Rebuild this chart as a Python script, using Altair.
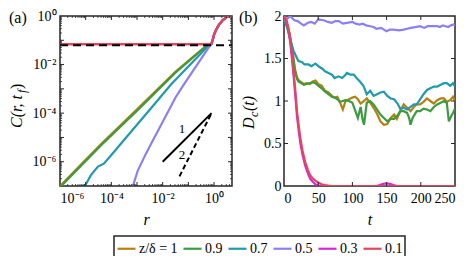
import altair as alt
import pandas as pd

FONT = "Liberation Serif, Times New Roman, serif"
INK = "#262626"

# ---------------- data ----------------
z_labels = ["1", "0.9", "0.7", "0.5", "0.3", "0.1"]
colors = ["#b5800f", "#3a9b3f", "#1f9aae", "#8a80f5", "#d42ad4", "#e2475a"]

# panel (a): C(r, t_f)
rise_r = [0.78, 0.9, 1.0, 1.2, 1.55, 2.2, 3.0, 3.8, 5.0]
rise_C = [0.07, 0.11, 0.17, 0.27, 0.43, 0.68, 0.88, 1.0, 1.0]

a_r = {
    "1":   [1e-6, 3.2e-6, 1e-5, 4e-5, 1e-3, 3.2e-2, 0.16, 0.6],
    "0.9": [1e-6, 3.2e-6, 1e-5, 4e-5, 1e-3, 3.2e-2, 0.16, 0.62],
    "0.7": [9.3e-6, 1.6e-5, 3.0e-5, 5.1e-5, 1e-4, 2.3e-4, 3.5e-3, 2.1e-2, 0.16, 0.71],
    "0.5": [6.9e-4, 1.07e-3, 2.2e-3, 3.5e-3, 3.2e-2, 6.6e-2, 0.76],
    "0.3": [1e-6, 0.5],
    "0.1": [1e-6, 0.5],
}
a_C = {
    "1":   [1e-7, 3.5e-7, 1.2e-6, 5.4e-6, 1.45e-4, 5.1e-3, 2.2e-2, 0.07],
    "0.9": [0.89e-7, 3.1e-7, 1.07e-6, 4.8e-6, 1.26e-4, 4.7e-3, 2.05e-2, 0.07],
    "0.7": [1e-7, 2.8e-7, 6.3e-7, 8.3e-7, 1.9e-6, 5.4e-6, 1.6e-4, 1.5e-3, 1.4e-2, 0.07],
    "0.5": [1e-7, 4.3e-7, 2.1e-6, 5.4e-6, 4.5e-4, 1.5e-3, 0.07],
    "0.3": [0.07, 0.07],
    "0.1": [0.07, 0.07],
}
flat_r = [1e-6, 5.0]
flat_C = [0.063, 0.063]
slope1_r = [0.01, 0.8]
slope1_C = [1e-6, 1e-4]
slope2_r = [0.045, 0.8]
slope2_C = [2.5e-7, 1e-4]
slope_lab_r = [0.056, 0.056]
slope_lab_C = [2.2e-5, 1.9e-6]
slope_lab_t = ["1", "2"]

# panel (b): D_c(t)
b_t = {
    "1":   [0, 4, 8, 12, 16, 19, 21, 25, 29, 33, 38, 42, 46, 50, 55, 60, 65, 70, 74, 78, 82, 86, 90, 95, 100,
            104, 108, 112, 117, 121, 126, 131, 136, 141, 146, 151, 156, 161, 165, 170, 175, 180, 185, 190,
            194, 199, 204, 209, 214, 219, 224, 229, 234, 238, 243, 247, 250],
    "0.9": [0, 4, 8, 12, 16, 19, 21, 25, 29, 33, 38, 42, 46, 50, 55, 60, 65, 70, 74, 78, 82, 86, 90, 95, 100,
            104, 108, 112, 115, 117, 119, 121, 126, 131, 136, 141, 146, 151, 156, 161, 165, 170, 175, 180,
            183, 185, 188, 194, 199, 204, 209, 214, 219, 224, 229, 234, 238, 241, 243, 247, 250],
    "0.7": [0, 4, 7, 10, 14, 18, 21, 26, 30, 36, 40, 46, 52, 56, 60, 65, 70, 74, 80, 85, 89, 92, 97, 102, 106,
            111, 116, 121, 126, 131, 136, 141, 146, 151, 156, 161, 166, 170, 175, 180, 185, 190, 194, 199,
            204, 209, 214, 219, 224, 229, 234, 238, 243, 247, 250],
    "0.5": [0, 5, 9, 15, 20, 25, 29, 35, 40, 45, 50, 58, 64, 70, 75, 80, 86, 92, 100, 105, 110, 115, 120, 126,
            131, 135, 142, 146, 150, 155, 160, 168, 175, 180, 185, 192, 199, 205, 210, 218, 224, 228, 232,
            236, 240, 244, 248, 250],
    "0.3": [0, 3, 6, 9, 12, 14, 17, 19, 22, 24, 27, 31, 35, 38, 42, 46, 50, 55, 60, 100, 135, 140, 145, 150,
            155, 160, 165, 200, 250],
    "0.1": [0, 3, 6, 9, 12, 14, 17, 19, 22, 24, 27, 31, 35, 38, 42, 45, 50, 55, 60, 65, 70, 80, 100, 150,
            200, 250],
}
b_D = {
    "1":   [1.95, 1.90, 1.80, 1.62, 1.38, 1.28, 1.25, 1.22, 1.20, 1.21, 1.20, 1.23, 1.24, 1.20, 1.18, 1.12,
            1.10, 1.06, 1.04, 1.05, 0.98, 0.90, 1.00, 1.02, 1.04, 1.05, 1.02, 0.97, 1.00, 1.03, 0.98, 0.92,
            0.85, 0.76, 0.72, 0.73, 0.80, 0.84, 0.79, 0.88, 0.96, 0.92, 0.88, 0.93, 0.96, 0.96, 0.99, 1.03,
            1.00, 0.97, 1.01, 1.03, 1.03, 0.99, 1.01, 1.05, 1.00],
    "0.9": [1.95, 1.88, 1.76, 1.58, 1.35, 1.26, 1.23, 1.21, 1.19, 1.20, 1.21, 1.22, 1.21, 1.18, 1.15, 1.11,
            1.08, 1.05, 1.04, 1.02, 0.99, 1.00, 1.01, 1.00, 0.98, 0.89, 0.80, 0.93, 0.78, 0.72, 0.85, 0.98,
            1.00, 0.96, 0.90, 0.84, 0.80, 0.76, 0.79, 0.79, 0.82, 0.88, 0.88, 0.86, 0.80, 0.72, 0.80, 0.88,
            0.88, 0.91, 0.90, 0.88, 0.93, 0.96, 0.98, 1.00, 0.98, 0.76, 0.80, 0.86, 0.91],
    "0.7": [1.96, 1.90, 1.82, 1.70, 1.59, 1.52, 1.47, 1.46, 1.43, 1.43, 1.41, 1.44, 1.40, 1.38, 1.35, 1.33,
            1.31, 1.27, 1.29, 1.27, 1.30, 1.33, 1.31, 1.31, 1.27, 1.23, 1.18, 1.08, 1.12, 1.06, 1.08, 1.10,
            1.11, 1.06, 1.03, 1.02, 0.97, 0.91, 0.92, 0.90, 0.93, 0.96, 0.96, 1.02, 1.08, 1.13, 1.15, 1.17,
            1.17, 1.19, 1.21, 1.21, 1.18, 1.21, 1.17],
    "0.5": [1.95, 1.97, 2.00, 1.95, 1.94, 1.91, 1.89, 1.92, 1.93, 1.91, 1.96, 1.95, 1.93, 1.92, 1.94, 1.94,
            1.91, 1.92, 1.93, 1.91, 1.90, 1.91, 1.89, 1.88, 1.87, 1.85, 1.86, 1.84, 1.82, 1.84, 1.84, 1.83,
            1.84, 1.85, 1.86, 1.87, 1.88, 1.86, 1.88, 1.88, 1.88, 1.87, 1.89, 1.88, 1.87, 1.89, 1.90, 1.89],
    "0.3": [1.99, 1.95, 1.85, 1.70, 1.47, 1.30, 1.02, 0.82, 0.62, 0.50, 0.37, 0.24, 0.15, 0.09, 0.05, 0.02,
            0.005, 0, 0, 0, 0, 0.01, 0.025, 0.03, 0.025, 0.01, 0, 0, 0],
    "0.1": [2.0, 1.97, 1.88, 1.74, 1.52, 1.35, 1.08, 0.88, 0.68, 0.56, 0.42, 0.28, 0.19, 0.13, 0.09, 0.07,
            0.04, 0.02, 0.01, 0.004, 0, 0, 0, 0, 0, 0],
}

a_xticks = [1e-6, 1e-4, 1e-2, 1.0]
a_yticks = [1e-6, 1e-4, 1e-2, 1.0]
b_xticks = [0, 50, 100, 150, 200, 250]
b_yticks = [0, 0.5, 1, 1.5, 2]

# ---------------- tables ----------------
rows_a = []
for z in z_labels:
    for r, c in zip(a_r[z] + rise_r, a_C[z] + rise_C):
        rows_a.append({"z": z, "r": r, "C": c})
df_a = pd.DataFrame(rows_a)
rows_b = []
for z in z_labels:
    for t, d in zip(b_t[z], b_D[z]):
        rows_b.append({"z": z, "t": t, "D": d})
df_b = pd.DataFrame(rows_b)

W_A, W_B, H = 172, 171, 170
TK, TKm = 4, 2

xa = alt.Scale(type="log", domain=[1e-6, 5], nice=False)
ya = alt.Scale(type="log", domain=[1e-7, 1], nice=False)
xb = alt.Scale(domain=[0, 250], nice=False)
yb = alt.Scale(domain=[0, 2], nice=False)

legend = alt.Legend(
    title=None, orient="none", legendX=54, legendY=220, direction="horizontal",
    symbolType="stroke", symbolSize=324, symbolStrokeWidth=2.2, labelFont=FONT,
    labelFontSize=14, labelColor="black", columnPadding=1, labelOffset=2,
    strokeColor=INK, padding=2, symbolOpacity=1,
    labelExpr="datum.label == '1' ? 'z/δ = 1' : datum.label",
)
color = alt.Color("z:N", scale=alt.Scale(domain=z_labels, range=colors), legend=legend)

log_label = ("datum.value < 5e-6 ? '10⁻⁶' : datum.value < 5e-4 ? '10⁻⁴' : "
             "datum.value < 5e-2 ? '10⁻²' : '10⁰'")

axis_common = dict(ticks=False, domain=False, grid=False, labelFont=FONT, labelFontSize=14,
                   labelColor="black", titleFont=FONT, titleFontSize=16, titleColor="black",
                   titleFontStyle="italic", titleFontWeight="normal")

ax_a_x = alt.Axis(values=a_xticks, labelExpr=log_label, title="r", labelPadding=5,
                  titlePadding=6, **axis_common)
ax_a_y = alt.Axis(values=a_yticks, labelExpr=log_label, title="", labelPadding=4, **axis_common)
ax_b_x = alt.Axis(values=b_xticks, title="t", labelPadding=5, titlePadding=6, **axis_common)
ax_b_y = alt.Axis(values=b_yticks, format="~g", title="", labelPadding=3, **axis_common)


def tick_layers(xs, ys, xax, yax, xvals, yvals, w, h, size, stroke=1.0):
    out = []
    if xvals:
        d = pd.DataFrame({"v": xvals})
        for y0, y1 in ((h, h - size), (0, size)):
            out.append(alt.Chart(d).mark_rule(color=INK, strokeWidth=stroke).encode(
                x=alt.X("v:Q", scale=xs, axis=xax), y=alt.value(y0), y2=alt.value(y1)))
    if yvals:
        d = pd.DataFrame({"v": yvals})
        for x0, x1 in ((0, size), (w, w - size)):
            out.append(alt.Chart(d).mark_rule(color=INK, strokeWidth=stroke).encode(
                y=alt.Y("v:Q", scale=ys, axis=yax), x=alt.value(x0), x2=alt.value(x1)))
    return out


def text_piece(txt, x, y, size, align="left", angle=0, italic=True):
    return alt.Chart(pd.DataFrame({"s": [txt]})).mark_text(
        text=txt, font=FONT, fontSize=size, fontStyle="italic" if italic else "normal",
        align=align, baseline="alphabetic", angle=angle, color="black"
    ).encode(x=alt.value(x), y=alt.value(y))


# ---------------- panel (a) ----------------
layers_a = []
for z in z_labels:
    layers_a.append(alt.Chart(df_a).transform_filter(alt.datum.z == z).mark_line(
        strokeWidth=2.2, clip=True).encode(
        x=alt.X("r:Q", scale=xa, axis=ax_a_x),
        y=alt.Y("C:Q", scale=ya, axis=ax_a_y),
        color=color, order=alt.Order("r:Q")))

flat = pd.DataFrame({"r": flat_r, "C": flat_C})
layers_a.append(alt.Chart(flat).mark_line(color="black", strokeWidth=2, strokeDash=[8, 5]).encode(
    x=alt.X("r:Q", scale=xa, axis=ax_a_x), y=alt.Y("C:Q", scale=ya, axis=ax_a_y)))
s1 = pd.DataFrame({"r": slope1_r, "C": slope1_C})
layers_a.append(alt.Chart(s1).mark_line(color="black", strokeWidth=2).encode(
    x=alt.X("r:Q", scale=xa, axis=ax_a_x), y=alt.Y("C:Q", scale=ya, axis=ax_a_y)))
s2 = pd.DataFrame({"r": slope2_r, "C": slope2_C})
layers_a.append(alt.Chart(s2).mark_line(color="black", strokeWidth=2, strokeDash=[5, 3]).encode(
    x=alt.X("r:Q", scale=xa, axis=ax_a_x), y=alt.Y("C:Q", scale=ya, axis=ax_a_y)))
sl = pd.DataFrame({"r": slope_lab_r, "C": slope_lab_C, "s": slope_lab_t})
layers_a.append(alt.Chart(sl).mark_text(font=FONT, fontSize=13, color="black").encode(
    x=alt.X("r:Q", scale=xa, axis=ax_a_x), y=alt.Y("C:Q", scale=ya, axis=ax_a_y), text="s:N"))

minor_x = [k * 10.0 ** e for e in range(-6, 1) for k in range(2, 10) if k * 10.0 ** e < 5]
minor_y = [k * 10.0 ** e for e in range(-7, 0) for k in range(2, 10)]
major_x = [10.0 ** e for e in range(-5, 1)]
major_y = [10.0 ** e for e in range(-6, 0)]
layers_a += tick_layers(xa, ya, ax_a_x, ax_a_y, major_x, major_y, W_A, H, TK)
layers_a += tick_layers(xa, ya, ax_a_x, ax_a_y, minor_x, minor_y, W_A, H, TKm, 0.8)

layers_a.append(text_piece("(a)", -51, 7, 16, italic=False))
layers_a.append(text_piece("C(r, t", -38, 112, 16, angle=270))
layers_a.append(text_piece("f", -34, 77, 12, angle=270))
layers_a.append(text_piece(")", -38, 73, 16, angle=270, italic=False))

panel_a = alt.layer(*layers_a).properties(width=W_A, height=H)

# ---------------- panel (b) ----------------
layers_b = []
for z in z_labels:
    layers_b.append(alt.Chart(df_b).transform_filter(alt.datum.z == z).mark_line(
        strokeWidth=2.2, clip=True).encode(
        x=alt.X("t:Q", scale=xb, axis=ax_b_x),
        y=alt.Y("D:Q", scale=yb, axis=ax_b_y),
        color=color, order=alt.Order("t:Q")))
layers_b += tick_layers(xb, yb, ax_b_x, ax_b_y, b_xticks[1:-1], b_yticks[1:-1], W_B, H, TK)
layers_b.append(text_piece("(b)", -45, 7, 16, italic=False))
layers_b.append(text_piece("D", -30, 113, 16, angle=270))
layers_b.append(text_piece("c", -26, 101, 12, angle=270))
layers_b.append(text_piece("(t)", -30, 95, 16, angle=270))

panel_b = alt.layer(*layers_b).properties(width=W_B, height=H)

chart = alt.hconcat(panel_a, panel_b, spacing=1).resolve_scale(
    x="independent", y="independent", color="shared"
).properties(padding={"left": 0, "top": 0, "right": 0, "bottom": 0}).configure_view(
    stroke=INK, strokeWidth=1.5
).configure_legend(strokeWidth=1.5)

chart.save("out.html", embed_options={"renderer": "svg", "actions": False})
